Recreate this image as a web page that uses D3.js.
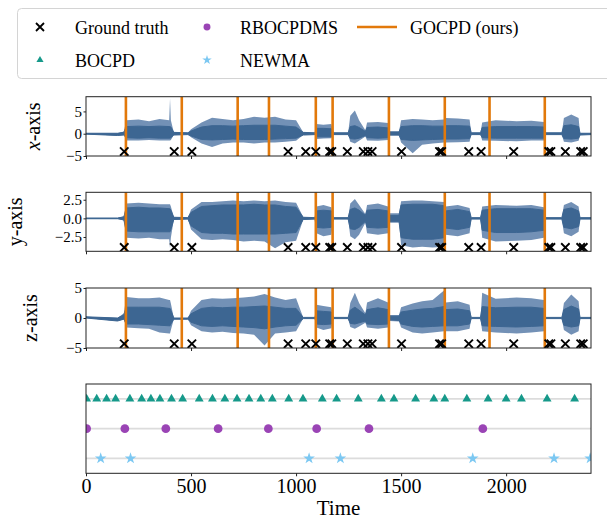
<!DOCTYPE html>
<html>
<head>
<meta charset="utf-8">
<script src="https://cdn.jsdelivr.net/npm/d3@7"></script>
<style>
  body { margin: 0; background: #fff; }
</style>
</head>
<body>
<div id="chart"></div>
<script>
// envelope knots (time) shared by the three accelerometer axes
const sigTime = [0, 150, 180, 192, 250, 300, 350, 396, 400, 404,
                 418, 485, 500, 550, 600, 650, 700, 750, 800, 850,
                 900, 950, 1000, 1034, 1090, 1097, 1130, 1168, 1178, 1248,
                 1258, 1280, 1300, 1330, 1338, 1390, 1438, 1446, 1490, 1500,
                 1555, 1600, 1650, 1704, 1712, 1770, 1826, 1834, 1878, 1886,
                 1950, 2050, 2120, 2180, 2188, 2265, 2275, 2310, 2345, 2352,
                 2404];

// x-axis: spike envelope and dense core
const xPeakHi = [0.1, 0.1, 0.5, 3.0, 3.2, 2.8, 3.3, 3.0, 7.9, 3.0,
                 0.3, 0.2, 1.0, 2.5, 3.6, 3.3, 3.0, 3.3, 3.8, 3.6,
                 3.8, 3.2, 3.0, 0.3, 0.2, 2.2, 2.0, 2.2, 0.2, 0.2,
                 4.0, 5.2, 3.0, 0.8, 2.5, 2.6, 2.4, 0.5, 0.5, 3.0,
                 3.3, 3.2, 3.0, 3.2, 3.5, 3.4, 3.2, 0.2, 0.2, 2.5,
                 3.0, 2.8, 2.9, 2.6, 0.2, 0.2, 3.5, 4.3, 3.5, 0.1,
                 0.1];
const xPeakLo = [-0.1, -0.4, -0.3, -1.5, -1.5, -1.4, -1.5, -1.5, -1.5, -1.4,
                 -0.3, -0.2, -0.8, -2.2, -3.0, -2.2, -2.0, -2.0, -2.2, -2.0,
                 -2.0, -1.8, -1.6, -0.3, -0.2, -1.2, -1.1, -1.0, -0.2, -0.2,
                 -1.8, -2.2, -1.6, -0.6, -1.5, -1.6, -1.4, -0.4, -0.4, -2.0,
                 -4.4, -2.5, -2.2, -2.0, -2.0, -1.9, -1.8, -0.2, -0.2, -1.5,
                 -1.6, -1.7, -1.5, -1.5, -0.2, -0.2, -1.8, -2.0, -1.6, -0.3,
                 -0.2];
const xCoreHi = [0.1, 0.1, 0.3, 1.6, 1.7, 1.6, 1.7, 1.6, 1.6, 1.5,
                 0.3, 0.2, 0.6, 1.5, 1.8, 1.8, 1.7, 1.8, 1.9, 1.9,
                 1.9, 1.7, 1.5, 0.3, 0.2, 1.2, 1.2, 1.1, 0.2, 0.2,
                 1.6, 1.8, 1.4, 0.5, 1.4, 1.5, 1.3, 0.4, 0.4, 1.6,
                 1.8, 1.8, 1.7, 1.7, 1.8, 1.8, 1.7, 0.2, 0.2, 1.4,
                 1.6, 1.6, 1.6, 1.5, 0.2, 0.2, 1.8, 2.0, 1.6, 0.1,
                 0.1];
const xCoreLo = [-0.1, -0.4, -0.3, -0.9, -1.0, -0.9, -1.0, -1.0, -1.0, -0.9,
                 -0.3, -0.2, -0.5, -1.3, -1.4, -1.3, -1.2, -1.3, -1.3, -1.3,
                 -1.2, -1.1, -1.0, -0.3, -0.2, -0.7, -0.7, -0.7, -0.2, -0.2,
                 -1.1, -1.2, -1.0, -0.4, -0.9, -1.0, -0.9, -0.3, -0.3, -1.3,
                 -1.5, -1.4, -1.3, -1.2, -1.2, -1.2, -1.1, -0.2, -0.2, -0.9,
                 -1.0, -1.0, -1.0, -1.0, -0.2, -0.2, -1.1, -1.2, -1.0, -0.3,
                 -0.2];

// y-axis
const yPeakHi = [0.05, 0.05, 0.3, 2.0, 2.1, 2.0, 1.9, 1.9, 1.9, 1.6,
                 0.2, 0.1, 1.2, 2.2, 2.2, 2.3, 2.4, 2.3, 2.4, 2.3,
                 2.4, 2.2, 2.1, 0.2, 0.1, 1.6, 1.8, 1.5, 0.1, 0.1,
                 2.0, 2.6, 1.8, 0.6, 1.8, 2.0, 1.6, 0.7, 0.7, 2.3,
                 2.4, 2.4, 2.3, 2.2, 1.6, 1.8, 1.4, 0.1, 0.1, 1.6,
                 1.8, 1.7, 1.8, 1.5, 0.1, 0.1, 1.8, 2.2, 1.6, 0.1,
                 0.1];
const yPeakLo = [-0.05, -0.05, -0.3, -2.6, -2.7, -2.6, -2.8, -2.8, -4.0, -2.6,
                 -0.2, -0.1, -1.5, -2.8, -2.9, -2.8, -2.9, -3.1, -3.0, -3.1,
                 -4.0, -3.2, -3.0, -0.2, -0.1, -2.0, -2.4, -2.2, -0.1, -0.1,
                 -2.4, -2.8, -2.2, -0.6, -2.0, -2.2, -2.0, -0.6, -0.6, -3.6,
                 -3.9, -3.8, -3.9, -3.8, -2.2, -2.4, -2.0, -0.1, -0.1, -2.6,
                 -3.1, -3.0, -2.9, -2.6, -0.1, -0.1, -2.0, -2.4, -1.8, -0.1,
                 -0.1];
const yCoreHi = [0.05, 0.05, 0.2, 1.4, 1.5, 1.4, 1.4, 1.3, 1.3, 1.1,
                 0.15, 0.1, 0.8, 1.6, 1.7, 1.8, 1.8, 1.8, 1.9, 1.8,
                 1.8, 1.6, 1.5, 0.15, 0.1, 1.0, 1.1, 1.0, 0.1, 0.1,
                 1.2, 1.4, 1.1, 0.4, 1.1, 1.2, 1.0, 0.4, 0.4, 1.8,
                 1.9, 1.9, 1.9, 1.7, 1.0, 1.2, 0.9, 0.1, 0.1, 1.1,
                 1.3, 1.3, 1.3, 1.1, 0.1, 0.1, 1.2, 1.4, 1.0, 0.1,
                 0.1];
const yCoreLo = [-0.05, -0.05, -0.2, -1.7, -1.8, -1.8, -1.8, -1.8, -1.8, -1.5,
                 -0.15, -0.1, -1.0, -1.9, -2.0, -2.0, -2.1, -2.1, -2.1, -2.1,
                 -2.1, -2.0, -1.9, -0.15, -0.1, -1.2, -1.3, -1.2, -0.1, -0.1,
                 -1.4, -1.5, -1.2, -0.4, -1.2, -1.3, -1.2, -0.4, -0.4, -2.6,
                 -2.8, -2.8, -2.8, -2.6, -1.3, -1.5, -1.2, -0.1, -0.1, -1.6,
                 -1.9, -1.9, -1.8, -1.6, -0.1, -0.1, -1.2, -1.4, -1.1, -0.1,
                 -0.1];

// z-axis
const zPeakHi = [0.2, 0.0, 0.8, 3.5, 3.3, 3.3, 3.4, 3.0, 3.0, 2.4,
                 0.0, 0.0, 1.2, 3.0, 3.3, 3.2, 3.3, 3.4, 3.6, 4.0,
                 3.4, 3.0, 3.3, 0.1, 0.1, 2.2, 2.0, 1.8, 0.1, 0.1,
                 2.5, 4.2, 2.5, 0.8, 2.6, 3.3, 2.6, 0.5, 0.5, 1.8,
                 2.4, 2.8, 3.0, 4.6, 2.6, 2.8, 2.2, 0.1, 0.1, 4.2,
                 3.2, 3.4, 3.3, 3.0, 0.1, 0.1, 2.5, 3.9, 2.8, 0.1,
                 0.1];
const zPeakLo = [0.0, -0.5, -0.2, -1.6, -1.7, -1.8, -2.4, -2.6, -2.6, -2.0,
                 -0.2, -0.2, -1.2, -2.2, -2.4, -2.3, -2.5, -2.6, -2.8, -4.6,
                 -2.6, -2.4, -2.2, -0.1, -0.1, -1.6, -2.0, -1.7, -0.1, -0.1,
                 -1.5, -1.8, -1.4, -0.8, -1.6, -1.8, -1.6, -0.5, -0.6, -1.6,
                 -2.4, -2.6, -2.4, -2.2, -2.2, -2.2, -1.8, -0.1, -0.1, -2.2,
                 -2.4, -2.6, -2.4, -2.2, -0.1, -0.1, -2.0, -2.8, -2.2, -0.1,
                 -0.1];
const zCoreHi = [0.2, 0.0, 0.5, 1.8, 1.8, 1.8, 1.8, 1.6, 1.6, 1.3,
                 0.0, 0.0, 0.7, 1.6, 1.8, 1.7, 1.8, 1.8, 1.9, 2.0,
                 1.8, 1.6, 1.6, 0.1, 0.1, 1.2, 1.1, 1.0, 0.1, 0.1,
                 1.3, 1.8, 1.3, 0.5, 1.4, 1.7, 1.4, 0.3, 0.3, 1.0,
                 1.3, 1.5, 1.6, 1.9, 1.4, 1.5, 1.2, 0.1, 0.1, 1.9,
                 1.7, 1.8, 1.8, 1.6, 0.1, 0.1, 1.4, 2.0, 1.5, 0.1,
                 0.1];
const zCoreLo = [0.0, -0.5, -0.2, -1.0, -1.0, -1.1, -1.2, -1.3, -1.3, -1.0,
                 -0.2, -0.2, -0.7, -1.3, -1.4, -1.3, -1.4, -1.5, -1.6, -1.8,
                 -1.5, -1.3, -1.2, -0.1, -0.1, -1.0, -1.1, -1.0, -0.1, -0.1,
                 -0.9, -1.0, -0.8, -0.5, -1.0, -1.1, -1.0, -0.3, -0.4, -1.0,
                 -1.4, -1.5, -1.4, -1.3, -1.3, -1.3, -1.0, -0.1, -0.1, -1.3,
                 -1.4, -1.5, -1.4, -1.3, -0.1, -0.1, -1.2, -1.5, -1.3, -0.1,
                 -0.1];

const gtTimes = [182, 420, 504, 962, 1046, 1094, 1160, 1170, 1244, 1320, 1342, 1362, 1502, 1683, 1693, 1822, 1881, 2036,
                 2203, 2213, 2282, 2355, 2367];
const gtLevel = [-4.0, -3.9, -4.3];
const gocpdTimes = [190, 456, 722, 871, 1094, 1174, 1442, 1708, 1921, 2184];
const bocpdTimes = [3, 51, 98, 141, 209, 265, 309, 352, 407, 460, 539, 602, 661, 719, 776, 832, 887, 965, 1033, 1125,
                    1193, 1296, 1406, 1466, 1569, 1656, 1708, 1813, 1914, 2000, 2073, 2195, 2326];
const rbocpdmsTimes = [3, 185, 380, 629, 868, 1098, 1347, 1889];
const newmaTimes = [70, 212, 1062, 1211, 1841, 2228, 2400];
const timeTicks = [0, 500, 1000, 1500, 2000];
const axisNames = ["x", "y", "z"];

const C_SIG = "#3d6692", C_SPIKE = "#7391b6", C_ORANGE = "#e2790b", C_TEAL = "#16998a",
      C_PURPLE = "#9a44b5", C_STAR = "#7cc8f2";
const FONT = "'Liberation Serif', 'DejaVu Serif', serif";

const svg = d3.select("#chart").append("svg").attr("width", 607).attr("height", 519)
  .attr("font-family", FONT);

const x = d3.scaleLinear().domain([0, 2404]).range([86, 591]);

const panels = [
  {pHi: xPeakHi, pLo: xPeakLo, cHi: xCoreHi, cLo: xCoreLo, dom: [-5, 8.3], top: 96.7, bot: 156,
   ticks: [-5, 0, 5], fmt: d3.format("d"), labX: 40},
  {pHi: yPeakHi, pLo: yPeakLo, cHi: yCoreHi, cLo: yCoreLo, dom: [-4.42, 3.5], top: 192.3, bot: 251.3,
   ticks: [-2.5, 0, 2.5], fmt: d3.format(".1f"), labX: 22},
  {pHi: zPeakHi, pLo: zPeakLo, cHi: zCoreHi, cLo: zCoreLo, dom: [-5, 5], top: 288, bot: 348,
   ticks: [-5, 0, 5], fmt: d3.format("d"), labX: 37}
];

const crossPath = s => `M${-s},${-s}L${s},${s}M${-s},${s}L${s},${-s}`;

panels.forEach((p, i) => {
  const y = d3.scaleLinear().domain(p.dom).range([p.bot, p.top]);
  const g = svg.append("g");
  const clipId = "clip" + i;
  svg.append("clipPath").attr("id", clipId).append("rect")
    .attr("x", 86).attr("y", p.top).attr("width", 505).attr("height", p.bot - p.top);

  const body = g.append("g").attr("clip-path", `url(#${clipId})`);
  const pts = sigTime.map((t, k) => ({t: t, ph: p.pHi[k], pl: p.pLo[k], ch: p.cHi[k], cl: p.cLo[k]}));
  body.append("path").datum(pts)
    .attr("d", d3.area().x(d => x(d.t)).y0(d => y(d.pl)).y1(d => y(d.ph)))
    .attr("fill", C_SPIKE);
  body.append("path").datum(pts)
    .attr("d", d3.area().x(d => x(d.t)).y0(d => y(d.cl)).y1(d => y(d.ch)))
    .attr("fill", C_SIG).attr("stroke", C_SIG).attr("stroke-width", 1);

  body.selectAll("line.cp").data(gocpdTimes).join("line")
    .attr("x1", d => x(d)).attr("x2", d => x(d)).attr("y1", p.top).attr("y2", p.bot)
    .attr("stroke", C_ORANGE).attr("stroke-width", 2.6);

  body.selectAll("path.gt").data(gtTimes).join("path")
    .attr("transform", d => `translate(${x(d)},${y(gtLevel[i])})`)
    .attr("d", crossPath(4.2)).attr("stroke", "#000").attr("stroke-width", 1.9).attr("fill", "none");

  // axes
  const yAxis = g.append("g").attr("transform", "translate(86,0)")
    .call(d3.axisLeft(y).tickValues(p.ticks).tickFormat(p.fmt).tickSize(2.5).tickPadding(1.5));
  yAxis.select(".domain").remove();
  yAxis.attr("font-family", FONT);
  yAxis.selectAll("text").attr("font-size", 15).attr("fill", "#000");
  yAxis.selectAll("line").attr("stroke", "#222");

  const xAxis = g.append("g").attr("transform", `translate(0,${p.bot})`)
    .call(d3.axisBottom(x).tickValues(timeTicks).tickFormat("").tickSize(3));
  xAxis.select(".domain").remove();
  xAxis.selectAll("line").attr("stroke", "#222");

  g.append("rect").attr("x", 86).attr("y", p.top).attr("width", 505).attr("height", p.bot - p.top)
    .attr("fill", "none").attr("stroke", "#222").attr("stroke-width", 1);

  const lab = g.append("text")
    .attr("transform", `translate(${p.labX},${(p.top + p.bot) / 2}) rotate(-90)`)
    .attr("text-anchor", "middle").attr("font-size", 20).attr("fill", "#000");
  if (i === 0) {
    lab.append("tspan").attr("font-style", "italic").text(axisNames[i]);
    lab.append("tspan").text("-axis");
  } else {
    lab.text(axisNames[i] + "-axis");
  }
});

// bottom panel: change points found by the baselines
const bTop = 384, bBot = 473.3;
const yb = d3.scaleLinear().domain([0.5, 3.5]).range([bBot, bTop]);
svg.append("clipPath").attr("id", "clipB").append("rect")
  .attr("x", 86).attr("y", bTop).attr("width", 505).attr("height", bBot - bTop);
const gb = svg.append("g");
const bb = gb.append("g").attr("clip-path", "url(#clipB)");
const rows = [
  {times: bocpdTimes, row: 3, sym: d3.symbolTriangle, size: 34, color: C_TEAL},
  {times: rbocpdmsTimes, row: 2, sym: d3.symbolCircle, size: 60, color: C_PURPLE},
  {times: newmaTimes, row: 1, sym: d3.symbolStar, size: 42, color: C_STAR}
];
rows.forEach(r => {
  bb.append("line").attr("x1", 86).attr("x2", 591).attr("y1", yb(r.row)).attr("y2", yb(r.row))
    .attr("stroke", "#dcdcdc").attr("stroke-width", 1.6);
});
rows.forEach(r => {
  bb.selectAll(null).data(r.times).join("path")
    .attr("transform", d => `translate(${x(d)},${yb(r.row)})`)
    .attr("d", d3.symbol().type(r.sym).size(r.size)).attr("fill", r.color);
});
const bAxis = gb.append("g").attr("transform", `translate(0,${bBot})`)
  .call(d3.axisBottom(x).tickValues(timeTicks).tickFormat(d3.format("d")).tickSize(3).tickPadding(3));
bAxis.select(".domain").remove();
bAxis.attr("font-family", FONT);
bAxis.selectAll("line").attr("stroke", "#222");
bAxis.selectAll("text").attr("font-size", 20).attr("fill", "#000");
gb.append("rect").attr("x", 86).attr("y", bTop).attr("width", 505).attr("height", bBot - bTop)
  .attr("fill", "none").attr("stroke", "#222").attr("stroke-width", 1);
gb.append("text").attr("x", 338.5).attr("y", 515).attr("text-anchor", "middle")
  .attr("font-size", 21).attr("fill", "#000").text("Time");

// legend
const lg = svg.append("g");
lg.append("rect").attr("x", 17.5).attr("y", 8.5).attr("width", 620).attr("height", 70).attr("rx", 4)
  .attr("fill", "#fff").attr("stroke", "#d4d4d4");
const legendItems = [
  {label: "Ground truth", kind: "cross", cx: 40, ty: 27, tx: 75},
  {label: "BOCPD", kind: "tri", cx: 40, ty: 60, tx: 75},
  {label: "RBOCPDMS", kind: "circle", cx: 207, ty: 27, tx: 240},
  {label: "NEWMA", kind: "star", cx: 207, ty: 60, tx: 240},
  {label: "GOCPD (ours)", kind: "line", cx: 377, ty: 27, tx: 410}
];
legendItems.forEach(it => {
  const m = lg.append("g").attr("transform", `translate(${it.cx},${it.ty})`);
  if (it.kind === "cross") m.append("path").attr("d", crossPath(4)).attr("stroke", "#000").attr("stroke-width", 1.8);
  if (it.kind === "tri") m.append("path").attr("d", d3.symbol().type(d3.symbolTriangle).size(22)).attr("fill", C_TEAL);
  if (it.kind === "circle") m.append("path").attr("d", d3.symbol().type(d3.symbolCircle).size(38)).attr("fill", C_PURPLE);
  if (it.kind === "star") m.append("path").attr("d", d3.symbol().type(d3.symbolStar).size(28)).attr("fill", C_STAR);
  if (it.kind === "line") m.append("line").attr("x1", -20).attr("x2", 20).attr("stroke", C_ORANGE).attr("stroke-width", 2.6);
  lg.append("text").attr("x", it.tx).attr("y", it.ty + 7).attr("font-size", 18).attr("fill", "#000").text(it.label);
});
</script>
</body>
</html>
